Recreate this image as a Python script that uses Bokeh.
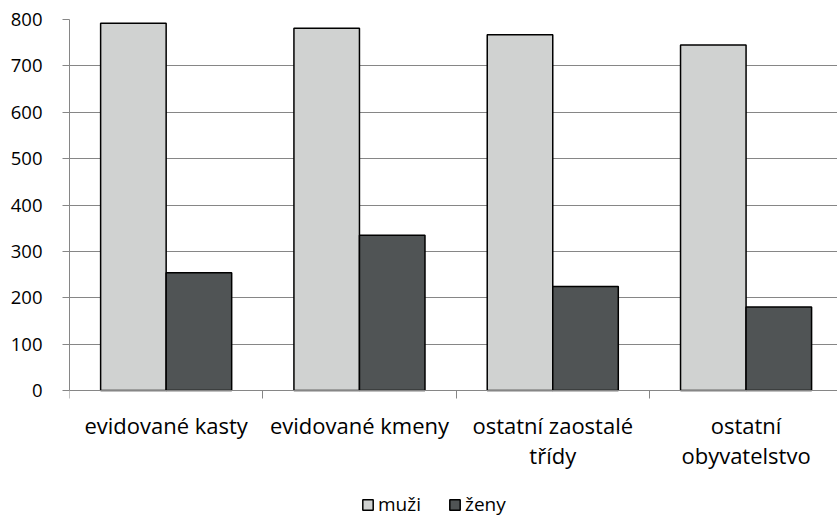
import numpy as np
from bokeh.plotting import figure
from bokeh.models import Range1d, FixedTicker, Legend, LegendItem
from bokeh.embed import file_html
from bokeh.resources import INLINE

categories = ["evidované kasty", "evidované kmeny", "ostatní zaostalé\ntřídy", "ostatní\nobyvatelstvo"]
muzi = [792, 781, 767, 745]
zeny = [254, 335, 224, 180]
y_ticks = [0, 100, 200, 300, 400, 500, 600, 700, 800]

FONT = "Open Sans"
GRID = "#868686"

# value axis occupies 371 px for 0..800; frame extends down to hold labels and legend
PLOT_PX = 371
FRAME_H = 498
y_min = -(FRAME_H - PLOT_PX) * 800 / PLOT_PX

p = figure(frame_width=768, frame_height=FRAME_H, output_backend="svg", toolbar_location=None,
           x_range=Range1d(0, 3.973), y_range=Range1d(y_min, 800),
           min_border_left=69, min_border_right=0, min_border_top=19, min_border_bottom=0)
p.outline_line_color = None
p.background_fill_color = "white"
p.border_fill_color = "white"

idx = np.arange(len(categories))
centers = idx + 0.5
bw = 0.339
r1 = p.vbar(x=centers - bw / 2, top=muzi, width=bw, fill_color="#D0D2D1",
            line_color="black", line_width=1.5)
r2 = p.vbar(x=centers + bw / 2, top=zeny, width=bw, fill_color="#505455",
            line_color="black", line_width=1.5)

# y axis
p.yaxis.ticker = FixedTicker(ticks=y_ticks)
p.yaxis.bounds = (0, 800)
p.yaxis.axis_line_color = GRID
p.yaxis.major_tick_line_color = GRID
p.yaxis.major_tick_out = 7
p.yaxis.major_tick_in = 0
p.yaxis.minor_tick_line_color = None
p.yaxis.major_label_standoff = 20
p.yaxis.major_label_text_font = FONT
p.yaxis.major_label_text_font_size = "18.5px"
p.yaxis.major_label_text_color = "black"

# x axis drawn at value 0
p.xaxis.fixed_location = 0
p.xaxis.ticker = FixedTicker(ticks=list(centers), minor_ticks=list(range(len(categories) + 1)))
p.xaxis.major_label_overrides = {float(c): lab for c, lab in zip(centers, categories)}
p.xaxis.axis_line_color = GRID
p.xaxis.major_tick_line_color = None
p.xaxis.major_tick_out = 0
p.xaxis.major_tick_in = 0
p.xaxis.minor_tick_line_color = GRID
p.xaxis.minor_tick_out = 8
p.xaxis.minor_tick_in = 0
p.xaxis.major_label_standoff = 11
p.xaxis.major_label_text_font = FONT
p.xaxis.major_label_text_font_size = "22px"
p.xaxis.major_label_text_color = "black"
p.xaxis.major_label_text_line_height = 1.0

p.xgrid.grid_line_color = None
p.ygrid.ticker = FixedTicker(ticks=y_ticks)
p.ygrid.grid_line_color = GRID
p.ygrid.grid_line_width = 1

legend = Legend(items=[LegendItem(label="muži", renderers=[r1]),
                       LegendItem(label="ženy", renderers=[r2])],
                location=(292, 0), orientation="horizontal",
                padding=0, margin=0, spacing=0, label_standoff=4, label_width=70,
                glyph_width=13, glyph_height=13,
                border_line_color=None, background_fill_alpha=0,
                label_text_font=FONT, label_text_font_size="19px",
                label_text_color="black")
p.add_layout(legend, "center")

open("out.html", "w").write(file_html(p, INLINE))
